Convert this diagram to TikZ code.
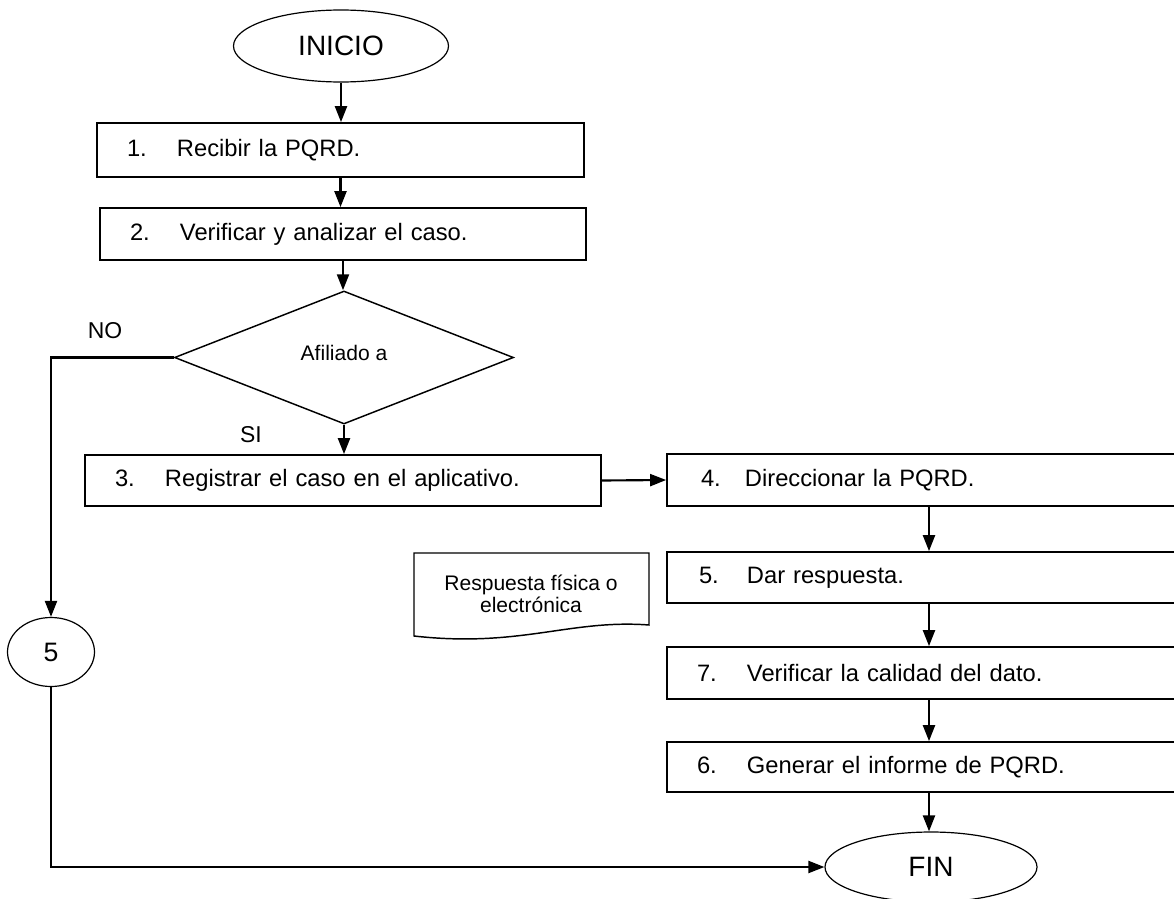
\documentclass[tikz,border=0pt]{standalone}
\usepackage{fontspec}
\setmainfont{Liberation Sans}
\usetikzlibrary{shapes.geometric,arrows.meta}
\newdimen\pu \pu=0.75pt
\newcommand\fBox{\fontsize{17.8}{21}\selectfont}
\newcommand\fSmall{\fontsize{15.8}{16.5}\selectfont}
\newcommand\fBig{\fontsize{21}{24}\selectfont}
\newcommand\fLab{\fontsize{17.2}{20}\selectfont}
\newcommand\fNum{\fontsize{20}{24}\selectfont}
\tikzset{
  stepbox/.style={draw, rectangle, line width=1.3pt, inner xsep=0pt, inner ysep=0pt, align=left, font=\fBox},
  term/.style={draw, ellipse, line width=0.9pt, inner sep=0pt, font=\fBig},
  conn/.style={draw, ellipse, line width=0.9pt, inner sep=0pt, font=\fNum},
  dec/.style={draw, diamond, line width=1.1pt, inner sep=0pt, font=\fSmall},
  lab/.style={font=\fLab, inner sep=0pt},
  arr/.style={line width=1.6pt, -{Triangle[width=9pt,length=12pt]}},
  plain/.style={line width=1.6pt}
}
\begin{document}
\begin{tikzpicture}[x=0.75pt,y=-0.75pt]
\useasboundingbox (0,0) rectangle (1174,899);
\fill[white] (0,0) rectangle (1174,899);
\clip (0,0) rectangle (1174,899);

\node[term, minimum width=215\pu, minimum height=72\pu] (ini) at (341,46) {INICIO};
\node[stepbox, text width=487\pu, minimum height=54\pu] (b1) at (340.5,150) {\hspace*{30\pu}\makebox[50\pu][l]{1.}Recibir la PQRD.};
\node[stepbox, text width=486\pu, minimum height=52\pu] (b2) at (343,234) {\hspace*{30\pu}\makebox[50\pu][l]{2.}Verificar y analizar el caso.};
\node[dec, minimum width=339\pu, minimum height=133\pu] (dd) at (344,357.5) {\raisebox{9\pu}{Afiliado a}};
\node[stepbox, text width=516\pu, minimum height=51\pu] (b3) at (343,480.5) {\hspace*{30\pu}\makebox[50\pu][l]{3.}Registrar el caso en el aplicativo.};
\node[stepbox, text width=524\pu, minimum height=52\pu] (b4) at (929,480) {\hspace*{34\pu}\makebox[44\pu][l]{4.}Direccionar la PQRD.};
\node[stepbox, text width=524\pu, minimum height=51\pu] (b5) at (929,577.5) {\hspace*{32\pu}\makebox[48\pu][l]{5.}Dar respuesta.};
\node[stepbox, text width=524\pu, minimum height=52\pu] (b7) at (929,673) {\hspace*{30\pu}\makebox[50\pu][l]{7.}Verificar la calidad del dato.};
\node[stepbox, text width=524\pu, minimum height=50\pu] (b6) at (929,767) {\hspace*{30\pu}\makebox[50\pu][l]{6.}Generar el informe de PQRD.};
\node[term, minimum width=212\pu, minimum height=70\pu] (fin) at (931,867) {FIN};
\node[conn, minimum width=87\pu, minimum height=69\pu] (c5) at (51,652) {5};

% document symbol
\draw[line width=1.1pt] (414,553) -- (649,553) -- (649,625)
  .. controls (570,619) and (520,648) .. (414,636) -- cycle;
\node[font=\fSmall, align=center, inner sep=0pt] (doc) at (531,594) {Respuesta física o\\electrónica};

\node[lab] (no) at (105,331) {NO};
\node[lab] (si) at (251,435) {SI};

\draw[arr] (ini.south) -- (ini.south |- b1.north);
\draw[arr] (b1.south) -- (b1.south |- b2.north);
\draw[arr] (b2.south) -- (b2.south |- dd.north);
\draw[arr] (dd.south) -- (dd.south |- b3.north);
\draw[arr] (b3.east) -- (b4.west);
\draw[arr] (b4.south) -- (b5.north);
\draw[arr] (b5.south) -- (b7.north);
\draw[arr] (b7.south) -- (b6.north);
\draw[arr] (b6.south) -- (b6.south |- fin.north);
\draw[arr] (dd.west) -| (c5.north);
\draw[arr] (c5.south) |- (fin.west);
\end{tikzpicture}
\end{document}
